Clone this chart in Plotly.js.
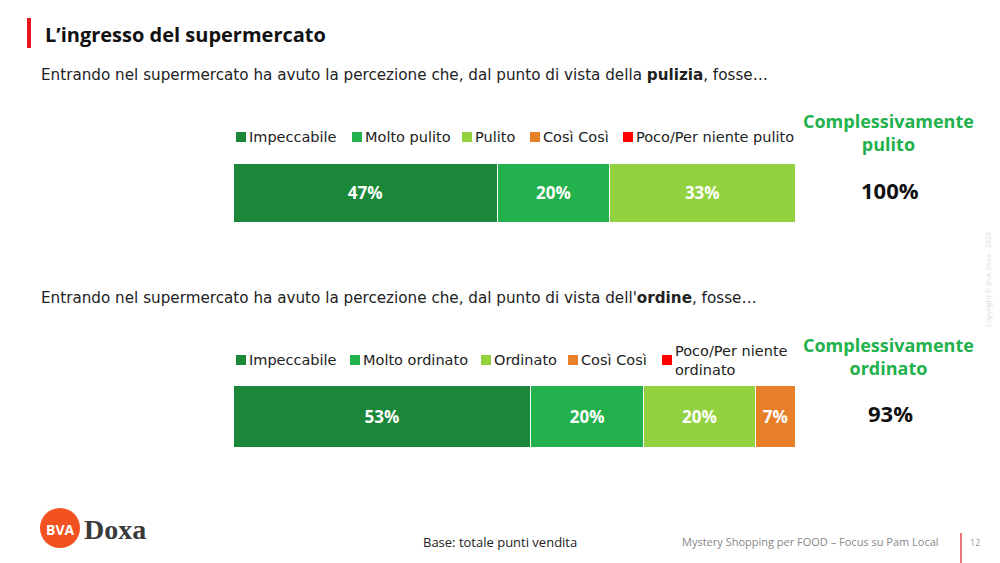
<!DOCTYPE html>
<html>
<head>
<meta charset="utf-8">
<script src="https://cdn.plot.ly/plotly-3.0.1.min.js"></script>
<style>html,body{margin:0;padding:0;background:#fff;}#chart{width:1000px;height:563px;}</style>
</head>
<body>
<div id="chart"></div>
<script>
// ---- data ----
const categories1 = ["Impeccabile", "Molto pulito", "Pulito", "Così Così", "Poco/Per niente pulito"];
const values1 = [47, 20, 33, 0, 0];
const categories2 = ["Impeccabile", "Molto ordinato", "Ordinato", "Così Così", "Poco/Per niente<br>ordinato"];
const values2 = [53, 20, 20, 7, 0];
const totalLabel1 = "100%";
const totalLabel2 = "93%";
const seriesColors = ["#1a8838", "#22b14c", "#92d13f", "#e8802a", "#ff0000"];

// legend layout (pixel positions of each entry's square)
const legendX1 = [236, 352, 462, 530, 623];
const legendX2 = [236, 350, 481, 568, 662];

const FONT = "Open Sans, sans-serif";
const FONT2 = "DejaVu Sans, sans-serif";
const W = 1000, H = 563;
const px = v => v / W;
const py = v => 1 - v / H;

const traces = [];
function addTraces(cats, vals, xa, ya) {
  cats.forEach((c, i) => {
    traces.push({
      type: "bar", orientation: "h",
      x: [vals[i]], y: ["q"], name: c.replace("<br>", " "),
      xaxis: xa, yaxis: ya,
      marker: {color: seriesColors[i], line: {color: "#ffffff", width: 1}},
      text: [vals[i] > 0 ? vals[i] + "%" : ""],
      textposition: "inside", insidetextanchor: "middle", textangle: 0,
      textfont: {family: FONT, size: 17, color: "#ffffff", weight: "bold"},
      constraintext: "none", hoverinfo: "name+x", showlegend: false
    });
  });
}
addTraces(categories1, values1, "x", "y");
addTraces(categories2, values2, "x2", "y2");

const hiddenX = {range: [0, 100], visible: false, fixedrange: true};
const hiddenY = {visible: false, fixedrange: true};

const ann = (x, y, text, opts) => Object.assign({
  xref: "paper", yref: "paper", x: px(x), y: py(y), text: text, showarrow: false,
  font: {family: FONT2, size: 15.2, color: "#222"}, xanchor: "left", yanchor: "middle"
}, opts || {});

const shapes = [
  {type: "rect", xref: "paper", yref: "paper", x0: px(27), x1: px(31), y0: py(48), y1: py(18), fillcolor: "#e8141b", line: {width: 0}},
  {type: "line", xref: "paper", yref: "paper", x0: px(961), x1: px(961), y0: py(563), y1: py(533), line: {color: "#e8474a", width: 1.5}},
  {type: "circle", xref: "paper", yref: "paper", x0: px(40), x1: px(80), y0: py(548), y1: py(508), fillcolor: "#f2521f", line: {width: 0}}
];
const annotations = [
  ann(43, 35, "<b>L’ingresso del supermercato</b>", {font: {family: FONT, size: 20, color: "#111"}}),
  ann(39, 75, "Entrando nel supermercato ha avuto la percezione che, dal punto di vista della <b>pulizia</b>, fosse…"),
  ann(39, 298, "Entrando nel supermercato ha avuto la percezione che, dal punto di vista dell'<b>ordine</b>, fosse…"),
  ann(888, 133, "<b>Complessivamente<br>pulito</b>", {xanchor: "center", font: {family: FONT, size: 18, color: "#22b14c"}}),
  ann(890, 190, "<b>" + totalLabel1 + "</b>", {xanchor: "center", font: {family: FONT, size: 22, color: "#111"}}),
  ann(888, 356, "<b>Complessivamente<br>ordinato</b>", {xanchor: "center", font: {family: FONT, size: 18, color: "#22b14c"}}),
  ann(890, 413, "<b>" + totalLabel2 + "</b>", {xanchor: "center", font: {family: FONT, size: 22, color: "#111"}}),
  ann(500, 542, "Base: totale punti vendita", {xanchor: "center", font: {family: FONT, size: 13, color: "#222"}}),
  ann(810, 541, "Mystery Shopping per FOOD – Focus su Pam Local", {xanchor: "center", font: {family: FONT, size: 11, color: "#888"}}),
  ann(975, 542, "12", {xanchor: "center", font: {family: FONT, size: 9, color: "#999"}}),
  ann(988, 280, "Copyright © BVA Doxa - 2020", {xanchor: "center", textangle: -90, font: {family: FONT, size: 7, color: "#dcdcdc"}}),
  ann(60, 529, "<b>BVA</b>", {xanchor: "center", font: {family: FONT, size: 14, color: "#ffffff"}}),
  ann(82, 529, "<b>Doxa</b>", {font: {family: "Liberation Serif, serif", size: 28, color: "#3a3a3a"}})
];

// legend entries (square + label) for each chart
function addLegend(cats, xs, yc) {
  cats.forEach((c, i) => {
    shapes.push({type: "rect", xref: "paper", yref: "paper",
      x0: px(xs[i]), x1: px(xs[i] + 10), y0: py(yc + 5), y1: py(yc - 5),
      fillcolor: seriesColors[i], line: {width: 0}});
    annotations.push(ann(xs[i] + 11, yc, c,
      {font: {family: FONT2, size: 14.5, color: "#222"}, align: "left"}));
  });
}
addLegend(categories1, legendX1, 137);
addLegend(categories2, legendX2, 360);

const layout = {
  width: W, height: H,
  margin: {l: 0, r: 0, t: 0, b: 0},
  paper_bgcolor: "#ffffff", plot_bgcolor: "rgba(0,0,0,0)",
  barmode: "stack", bargap: 0,
  showlegend: false,
  xaxis: Object.assign({domain: [0.233, 0.795], anchor: "y"}, hiddenX),
  yaxis: Object.assign({domain: [py(222), py(163)], anchor: "x"}, hiddenY),
  xaxis2: Object.assign({domain: [0.233, 0.795], anchor: "y2"}, hiddenX),
  yaxis2: Object.assign({domain: [py(447), py(385)], anchor: "x2"}, hiddenY),
  shapes: shapes,
  annotations: annotations
};

Plotly.newPlot("chart", traces, layout, {displayModeBar: false, staticPlot: true});
</script>
</body>
</html>
